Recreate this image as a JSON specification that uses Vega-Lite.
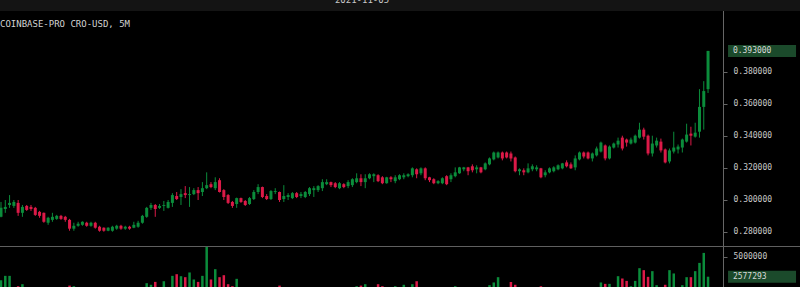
{
  "$schema": "https://vega.github.io/schema/vega-lite/v6.json",
  "width": 723,
  "height": 287,
  "autosize": {"type": "none"},
  "padding": {"left": 0, "top": 0, "right": 77, "bottom": 0},
  "background": "#000000",
  "config": {
    "view": {"stroke": null},
    "scale": {"continuousPadding": 0},
    "axis": {"labelFont": "DejaVu Sans Mono", "labelFontSize": 8, "labelColor": "#c8c8c8", "tickColor": "#666666", "domainColor": "#666666", "tickSize": 4, "labelPadding": 6, "grid": false}
  },
  "datasets": {
    "candles": [
      {"i":0,"o":0.2893,"h":0.2986,"l":0.2890,"c":0.2949,"v":2160000},
      {"i":1,"o":0.2942,"h":0.2998,"l":0.2918,"c":0.2955,"v":2680000},
      {"i":2,"o":0.2967,"h":0.3029,"l":0.2949,"c":0.2980,"v":2680000},
      {"i":3,"o":0.2961,"h":0.2998,"l":0.2949,"c":0.2986,"v":820000},
      {"i":4,"o":0.2980,"h":0.2998,"l":0.2899,"c":0.2918,"v":1430000},
      {"i":5,"o":0.2918,"h":0.2967,"l":0.2893,"c":0.2955,"v":1670000},
      {"i":6,"o":0.2961,"h":0.2967,"l":0.2930,"c":0.2936,"v":640000},
      {"i":7,"o":0.2955,"h":0.2967,"l":0.2930,"c":0.2942,"v":510000},
      {"i":8,"o":0.2949,"h":0.2955,"l":0.2899,"c":0.2905,"v":930000},
      {"i":9,"o":0.2924,"h":0.2930,"l":0.2887,"c":0.2899,"v":470000},
      {"i":10,"o":0.2918,"h":0.2920,"l":0.2856,"c":0.2862,"v":1050000},
      {"i":11,"o":0.2856,"h":0.2893,"l":0.2843,"c":0.2887,"v":720000},
      {"i":12,"o":0.2874,"h":0.2918,"l":0.2862,"c":0.2893,"v":580000},
      {"i":13,"o":0.2880,"h":0.2905,"l":0.2874,"c":0.2899,"v":390000},
      {"i":14,"o":0.2899,"h":0.2905,"l":0.2874,"c":0.2880,"v":450000},
      {"i":15,"o":0.2893,"h":0.2899,"l":0.2862,"c":0.2874,"v":610000},
      {"i":16,"o":0.2874,"h":0.2880,"l":0.2806,"c":0.2819,"v":1500000},
      {"i":17,"o":0.2819,"h":0.2856,"l":0.2806,"c":0.2837,"v":1430000},
      {"i":18,"o":0.2837,"h":0.2862,"l":0.2831,"c":0.2850,"v":540000},
      {"i":19,"o":0.2843,"h":0.2865,"l":0.2837,"c":0.2862,"v":420000},
      {"i":20,"o":0.2856,"h":0.2862,"l":0.2831,"c":0.2837,"v":380000},
      {"i":21,"o":0.2837,"h":0.2862,"l":0.2831,"c":0.2856,"v":460000},
      {"i":22,"o":0.2856,"h":0.2862,"l":0.2819,"c":0.2825,"v":870000},
      {"i":23,"o":0.2831,"h":0.2837,"l":0.2800,"c":0.2806,"v":690000},
      {"i":24,"o":0.2825,"h":0.2827,"l":0.2800,"c":0.2806,"v":350000},
      {"i":25,"o":0.2806,"h":0.2828,"l":0.2803,"c":0.2825,"v":410000},
      {"i":26,"o":0.2806,"h":0.2837,"l":0.2800,"c":0.2831,"v":560000},
      {"i":27,"o":0.2819,"h":0.2843,"l":0.2812,"c":0.2837,"v":330000},
      {"i":28,"o":0.2837,"h":0.2843,"l":0.2812,"c":0.2819,"v":300000},
      {"i":29,"o":0.2819,"h":0.2837,"l":0.2812,"c":0.2831,"v":280000},
      {"i":30,"o":0.2831,"h":0.2837,"l":0.2812,"c":0.2819,"v":360000},
      {"i":31,"o":0.2825,"h":0.2862,"l":0.2822,"c":0.2843,"v":740000},
      {"i":32,"o":0.2831,"h":0.2868,"l":0.2825,"c":0.2856,"v":980000},
      {"i":33,"o":0.2856,"h":0.2905,"l":0.2850,"c":0.2899,"v":1210000},
      {"i":34,"o":0.2893,"h":0.2955,"l":0.2887,"c":0.2949,"v":1790000},
      {"i":35,"o":0.2949,"h":0.2980,"l":0.2936,"c":0.2967,"v":1600000},
      {"i":36,"o":0.2967,"h":0.2973,"l":0.2893,"c":0.2942,"v":1950000},
      {"i":37,"o":0.2949,"h":0.2973,"l":0.2942,"c":0.2961,"v":880000},
      {"i":38,"o":0.2961,"h":0.2992,"l":0.2930,"c":0.2967,"v":2030000},
      {"i":39,"o":0.2949,"h":0.2998,"l":0.2945,"c":0.2986,"v":1150000},
      {"i":40,"o":0.2980,"h":0.3041,"l":0.2955,"c":0.3029,"v":2680000},
      {"i":41,"o":0.3023,"h":0.3048,"l":0.2998,"c":0.3004,"v":2880000},
      {"i":42,"o":0.3017,"h":0.3066,"l":0.2967,"c":0.3035,"v":2640000},
      {"i":43,"o":0.3041,"h":0.3085,"l":0.3010,"c":0.3029,"v":2520000},
      {"i":44,"o":0.3029,"h":0.3079,"l":0.2955,"c":0.3035,"v":3090000},
      {"i":45,"o":0.3035,"h":0.3072,"l":0.3029,"c":0.3060,"v":2240000},
      {"i":46,"o":0.3060,"h":0.3079,"l":0.2998,"c":0.3041,"v":1950000},
      {"i":47,"o":0.3048,"h":0.3110,"l":0.3023,"c":0.3072,"v":2680000},
      {"i":48,"o":0.3072,"h":0.3171,"l":0.3066,"c":0.3091,"v":6190000},
      {"i":49,"o":0.3097,"h":0.3110,"l":0.3072,"c":0.3079,"v":2240000},
      {"i":50,"o":0.3072,"h":0.3140,"l":0.3060,"c":0.3110,"v":3490000},
      {"i":51,"o":0.3122,"h":0.3134,"l":0.3045,"c":0.3048,"v":2520000},
      {"i":52,"o":0.3060,"h":0.3066,"l":0.2998,"c":0.3017,"v":2760000},
      {"i":53,"o":0.3029,"h":0.3035,"l":0.2973,"c":0.2980,"v":1670000},
      {"i":54,"o":0.2986,"h":0.2992,"l":0.2949,"c":0.2961,"v":1430000},
      {"i":55,"o":0.2973,"h":0.3013,"l":0.2949,"c":0.3010,"v":2320000},
      {"i":56,"o":0.3010,"h":0.3013,"l":0.2980,"c":0.2986,"v":1100000},
      {"i":57,"o":0.2992,"h":0.2998,"l":0.2961,"c":0.2967,"v":780000},
      {"i":58,"o":0.2973,"h":0.3017,"l":0.2967,"c":0.3010,"v":940000},
      {"i":59,"o":0.3004,"h":0.3060,"l":0.2998,"c":0.3048,"v":1180000},
      {"i":60,"o":0.3048,"h":0.3097,"l":0.3035,"c":0.3079,"v":1020000},
      {"i":61,"o":0.3079,"h":0.3082,"l":0.3010,"c":0.3017,"v":1240000},
      {"i":62,"o":0.3023,"h":0.3035,"l":0.2998,"c":0.3004,"v":650000},
      {"i":63,"o":0.3004,"h":0.3060,"l":0.2998,"c":0.3054,"v":890000},
      {"i":64,"o":0.3048,"h":0.3072,"l":0.3035,"c":0.3054,"v":430000},
      {"i":65,"o":0.3048,"h":0.3051,"l":0.2986,"c":0.2998,"v":1500000},
      {"i":66,"o":0.3004,"h":0.3091,"l":0.2986,"c":0.3023,"v":1120000},
      {"i":67,"o":0.3017,"h":0.3041,"l":0.2998,"c":0.3029,"v":520000},
      {"i":68,"o":0.3010,"h":0.3048,"l":0.3004,"c":0.3041,"v":610000},
      {"i":69,"o":0.3041,"h":0.3048,"l":0.3010,"c":0.3017,"v":470000},
      {"i":70,"o":0.3023,"h":0.3048,"l":0.3010,"c":0.3035,"v":390000},
      {"i":71,"o":0.3017,"h":0.3054,"l":0.3010,"c":0.3048,"v":560000},
      {"i":72,"o":0.3035,"h":0.3079,"l":0.3023,"c":0.3072,"v":840000},
      {"i":73,"o":0.3060,"h":0.3085,"l":0.3017,"c":0.3072,"v":720000},
      {"i":74,"o":0.3060,"h":0.3091,"l":0.3048,"c":0.3085,"v":530000},
      {"i":75,"o":0.3072,"h":0.3128,"l":0.3054,"c":0.3110,"v":960000},
      {"i":76,"o":0.3097,"h":0.3128,"l":0.3091,"c":0.3110,"v":480000},
      {"i":77,"o":0.3110,"h":0.3113,"l":0.3079,"c":0.3091,"v":410000},
      {"i":78,"o":0.3103,"h":0.3110,"l":0.3072,"c":0.3079,"v":570000},
      {"i":79,"o":0.3072,"h":0.3110,"l":0.3066,"c":0.3103,"v":630000},
      {"i":80,"o":0.3097,"h":0.3103,"l":0.3072,"c":0.3079,"v":350000},
      {"i":81,"o":0.3085,"h":0.3122,"l":0.3072,"c":0.3110,"v":690000},
      {"i":82,"o":0.3091,"h":0.3134,"l":0.3079,"c":0.3128,"v":1050000},
      {"i":83,"o":0.3110,"h":0.3165,"l":0.3103,"c":0.3134,"v":1430000},
      {"i":84,"o":0.3134,"h":0.3159,"l":0.3085,"c":0.3110,"v":1500000},
      {"i":85,"o":0.3110,"h":0.3159,"l":0.3072,"c":0.3134,"v":1670000},
      {"i":86,"o":0.3134,"h":0.3165,"l":0.3128,"c":0.3159,"v":760000},
      {"i":87,"o":0.3147,"h":0.3165,"l":0.3110,"c":0.3159,"v":820000},
      {"i":88,"o":0.3153,"h":0.3159,"l":0.3110,"c":0.3116,"v":1670000},
      {"i":89,"o":0.3140,"h":0.3147,"l":0.3097,"c":0.3103,"v":1430000},
      {"i":90,"o":0.3103,"h":0.3143,"l":0.3100,"c":0.3140,"v":910000},
      {"i":91,"o":0.3140,"h":0.3147,"l":0.3110,"c":0.3128,"v":540000},
      {"i":92,"o":0.3116,"h":0.3153,"l":0.3103,"c":0.3140,"v":1430000},
      {"i":93,"o":0.3128,"h":0.3159,"l":0.3122,"c":0.3153,"v":620000},
      {"i":94,"o":0.3140,"h":0.3165,"l":0.3128,"c":0.3153,"v":1600000},
      {"i":95,"o":0.3147,"h":0.3165,"l":0.3140,"c":0.3159,"v":480000},
      {"i":96,"o":0.3153,"h":0.3202,"l":0.3140,"c":0.3196,"v":1670000},
      {"i":97,"o":0.3190,"h":0.3196,"l":0.3134,"c":0.3159,"v":2030000},
      {"i":98,"o":0.3165,"h":0.3202,"l":0.3153,"c":0.3196,"v":870000},
      {"i":99,"o":0.3196,"h":0.3202,"l":0.3122,"c":0.3134,"v":1160000},
      {"i":100,"o":0.3140,"h":0.3143,"l":0.3110,"c":0.3122,"v":740000},
      {"i":101,"o":0.3128,"h":0.3134,"l":0.3097,"c":0.3103,"v":650000},
      {"i":102,"o":0.3103,"h":0.3122,"l":0.3097,"c":0.3116,"v":420000},
      {"i":103,"o":0.3103,"h":0.3140,"l":0.3097,"c":0.3134,"v":580000},
      {"i":104,"o":0.3147,"h":0.3153,"l":0.3091,"c":0.3097,"v":990000},
      {"i":105,"o":0.3128,"h":0.3165,"l":0.3110,"c":0.3153,"v":710000},
      {"i":106,"o":0.3147,"h":0.3202,"l":0.3140,"c":0.3171,"v":1430000},
      {"i":107,"o":0.3165,"h":0.3205,"l":0.3162,"c":0.3202,"v":1080000},
      {"i":108,"o":0.3190,"h":0.3205,"l":0.3178,"c":0.3202,"v":460000},
      {"i":109,"o":0.3202,"h":0.3205,"l":0.3153,"c":0.3178,"v":690000},
      {"i":110,"o":0.3209,"h":0.3221,"l":0.3171,"c":0.3184,"v":820000},
      {"i":111,"o":0.3190,"h":0.3215,"l":0.3165,"c":0.3202,"v":540000},
      {"i":112,"o":0.3202,"h":0.3205,"l":0.3165,"c":0.3171,"v":630000},
      {"i":113,"o":0.3190,"h":0.3233,"l":0.3184,"c":0.3227,"v":1190000},
      {"i":114,"o":0.3221,"h":0.3264,"l":0.3215,"c":0.3258,"v":1550000},
      {"i":115,"o":0.3252,"h":0.3301,"l":0.3246,"c":0.3295,"v":1880000},
      {"i":116,"o":0.3264,"h":0.3301,"l":0.3258,"c":0.3295,"v":2520000},
      {"i":117,"o":0.3295,"h":0.3301,"l":0.3246,"c":0.3258,"v":1210000},
      {"i":118,"o":0.3295,"h":0.3301,"l":0.3258,"c":0.3264,"v":860000},
      {"i":119,"o":0.3289,"h":0.3301,"l":0.3239,"c":0.3258,"v":1950000},
      {"i":120,"o":0.3264,"h":0.3270,"l":0.3171,"c":0.3178,"v":1600000},
      {"i":121,"o":0.3178,"h":0.3196,"l":0.3153,"c":0.3190,"v":730000},
      {"i":122,"o":0.3184,"h":0.3196,"l":0.3153,"c":0.3171,"v":520000},
      {"i":123,"o":0.3171,"h":0.3227,"l":0.3165,"c":0.3196,"v":910000},
      {"i":124,"o":0.3190,"h":0.3221,"l":0.3178,"c":0.3209,"v":640000},
      {"i":125,"o":0.3190,"h":0.3215,"l":0.3178,"c":0.3202,"v":450000},
      {"i":126,"o":0.3196,"h":0.3199,"l":0.3134,"c":0.3140,"v":1430000},
      {"i":127,"o":0.3153,"h":0.3184,"l":0.3140,"c":0.3171,"v":680000},
      {"i":128,"o":0.3171,"h":0.3202,"l":0.3165,"c":0.3196,"v":570000},
      {"i":129,"o":0.3178,"h":0.3209,"l":0.3171,"c":0.3202,"v":490000},
      {"i":130,"o":0.3190,"h":0.3221,"l":0.3184,"c":0.3215,"v":610000},
      {"i":131,"o":0.3196,"h":0.3230,"l":0.3190,"c":0.3227,"v":760000},
      {"i":132,"o":0.3233,"h":0.3246,"l":0.3202,"c":0.3209,"v":830000},
      {"i":133,"o":0.3221,"h":0.3233,"l":0.3193,"c":0.3196,"v":540000},
      {"i":134,"o":0.3202,"h":0.3277,"l":0.3184,"c":0.3258,"v":1180000},
      {"i":135,"o":0.3252,"h":0.3301,"l":0.3246,"c":0.3295,"v":1240000},
      {"i":136,"o":0.3295,"h":0.3301,"l":0.3258,"c":0.3270,"v":970000},
      {"i":137,"o":0.3295,"h":0.3301,"l":0.3252,"c":0.3258,"v":880000},
      {"i":138,"o":0.3258,"h":0.3295,"l":0.3239,"c":0.3289,"v":1010000},
      {"i":139,"o":0.3277,"h":0.3332,"l":0.3270,"c":0.3320,"v":1270000},
      {"i":140,"o":0.3301,"h":0.3363,"l":0.3295,"c":0.3357,"v":1880000},
      {"i":141,"o":0.3339,"h":0.3345,"l":0.3246,"c":0.3258,"v":1710000},
      {"i":142,"o":0.3258,"h":0.3339,"l":0.3252,"c":0.3332,"v":1710000},
      {"i":143,"o":0.3326,"h":0.3357,"l":0.3320,"c":0.3351,"v":1220000},
      {"i":144,"o":0.3345,"h":0.3388,"l":0.3326,"c":0.3369,"v":2640000},
      {"i":145,"o":0.3388,"h":0.3400,"l":0.3308,"c":0.3320,"v":2360000},
      {"i":146,"o":0.3376,"h":0.3382,"l":0.3332,"c":0.3357,"v":2070000},
      {"i":147,"o":0.3351,"h":0.3388,"l":0.3345,"c":0.3376,"v":1430000},
      {"i":148,"o":0.3357,"h":0.3407,"l":0.3351,"c":0.3400,"v":2070000},
      {"i":149,"o":0.3388,"h":0.3481,"l":0.3382,"c":0.3438,"v":3610000},
      {"i":150,"o":0.3438,"h":0.3450,"l":0.3376,"c":0.3394,"v":3370000},
      {"i":151,"o":0.3400,"h":0.3407,"l":0.3277,"c":0.3289,"v":2560000},
      {"i":152,"o":0.3289,"h":0.3400,"l":0.3270,"c":0.3351,"v":3250000},
      {"i":153,"o":0.3339,"h":0.3388,"l":0.3326,"c":0.3369,"v":1550000},
      {"i":154,"o":0.3363,"h":0.3382,"l":0.3295,"c":0.3308,"v":1190000},
      {"i":155,"o":0.3314,"h":0.3320,"l":0.3227,"c":0.3233,"v":1600000},
      {"i":156,"o":0.3239,"h":0.3320,"l":0.3227,"c":0.3308,"v":3370000},
      {"i":157,"o":0.3301,"h":0.3425,"l":0.3289,"c":0.3326,"v":2970000},
      {"i":158,"o":0.3314,"h":0.3345,"l":0.3289,"c":0.3332,"v":1230000},
      {"i":159,"o":0.3326,"h":0.3382,"l":0.3295,"c":0.3376,"v":1550000},
      {"i":160,"o":0.3363,"h":0.3475,"l":0.3357,"c":0.3407,"v":2520000},
      {"i":161,"o":0.3413,"h":0.3456,"l":0.3339,"c":0.3400,"v":2520000},
      {"i":162,"o":0.3394,"h":0.3481,"l":0.3388,"c":0.3419,"v":3250000},
      {"i":163,"o":0.3425,"h":0.3691,"l":0.3388,"c":0.3580,"v":4250000},
      {"i":164,"o":0.3580,"h":0.3741,"l":0.3438,"c":0.3679,"v":5460000},
      {"i":165,"o":0.3691,"h":0.3930,"l":0.3667,"c":0.3930,"v":2577293}
    ]
  },
  "resolve": {"scale": {"y": "independent"}, "axis": {"y": "independent"}},
  "layer": [
    {
      "layer": [
        {
          "data": {"values": [{"label": "2021-11-05"}]},
          "mark": {"type": "rect", "fill": "#141414"},
          "encoding": {
            "x": {"datum": -1, "type": "quantitative", "scale": {"domain": [-0.2334, 168.49], "nice": false, "zero": false, "padding": 0}, "axis": null},
            "x2": {"datum": 190},
            "y": {"datum": 0.45, "type": "quantitative", "title": null, "scale": {"domain": [0.24544, 0.424815], "nice": false, "zero": false, "padding": 0}, "axis": {"orient": "right", "values": [0.28, 0.30, 0.32, 0.34, 0.36, 0.38], "format": ".6f", "title": null}},
            "y2": {"datum": 0.417938}
          }
        },
        {
          "data": {"values": [{"label": "2021-11-05"}]},
          "mark": {"type": "text", "font": "DejaVu Sans Mono", "fontSize": 9, "color": "#c8c8c8", "align": "center", "baseline": "alphabetic"},
          "encoding": {
            "x": {"datum": 84.25, "type": "quantitative", "scale": {"domain": [-0.2334, 168.49], "nice": false, "zero": false, "padding": 0}, "axis": null},
            "y": {"datum": 0.422938, "type": "quantitative", "title": null, "scale": {"domain": [0.24544, 0.424815], "nice": false, "zero": false, "padding": 0}},
            "text": {"field": "label"}
          }
        },
        {
          "data": {"values": [{"label": "COINBASE-PRO CRO-USD, 5M"}]},
          "mark": {"type": "text", "font": "DejaVu Sans Mono", "fontSize": 9, "color": "#d2d2d2", "align": "left", "baseline": "alphabetic"},
          "encoding": {
            "x": {"datum": -0.2334, "type": "quantitative", "scale": {"domain": [-0.2334, 168.49], "nice": false, "zero": false, "padding": 0}, "axis": null},
            "y": {"datum": 0.407938, "type": "quantitative", "title": null, "scale": {"domain": [0.24544, 0.424815], "nice": false, "zero": false, "padding": 0}},
            "text": {"field": "label"}
          }
        },
        {
          "data": {"values": [{"label": "separator"}]},
          "mark": {"type": "rule", "stroke": "#5f5f5f", "strokeWidth": 1},
          "encoding": {
            "x": {"datum": -1, "type": "quantitative", "scale": {"domain": [-0.2334, 168.49], "nice": false, "zero": false, "padding": 0}, "axis": null},
            "x2": {"datum": 190},
            "y": {"datum": 0.27075, "type": "quantitative", "title": null, "scale": {"domain": [0.24544, 0.424815], "nice": false, "zero": false, "padding": 0}}
          }
        },
        {
          "data": {"name": "candles"},
          "mark": {"type": "rule", "strokeWidth": 1},
          "encoding": {
            "x": {"field": "i", "type": "quantitative", "scale": {"domain": [-0.2334, 168.49], "nice": false, "zero": false, "padding": 0}, "axis": null},
            "y": {"field": "l", "type": "quantitative", "title": null, "scale": {"domain": [0.24544, 0.424815], "nice": false, "zero": false, "padding": 0}},
            "y2": {"field": "h"},
            "color": {"condition": {"test": "datum.c >= datum.o", "value": "#0b8c3b"}, "value": "#dc1a48"}
          }
        },
        {
          "data": {"name": "candles"},
          "mark": {"type": "bar", "width": 3},
          "encoding": {
            "x": {"field": "i", "type": "quantitative", "scale": {"domain": [-0.2334, 168.49], "nice": false, "zero": false, "padding": 0}, "axis": null},
            "y": {"field": "o", "type": "quantitative", "title": null, "scale": {"domain": [0.24544, 0.424815], "nice": false, "zero": false, "padding": 0}},
            "y2": {"field": "c"},
            "color": {"condition": {"test": "datum.c >= datum.o", "value": "#0b8c3b"}, "value": "#dc1a48"}
          }
        },
        {
          "data": {"name": "candles"},
          "transform": [{"filter": "datum.i == 165"}],
          "mark": {"type": "tick", "orient": "horizontal", "size": 68, "thickness": 12, "color": "#1b4a2b", "opacity": 1},
          "encoding": {
            "x": {"datum": 177.6, "type": "quantitative", "scale": {"domain": [-0.2334, 168.49], "nice": false, "zero": false, "padding": 0}, "axis": null},
            "y": {"field": "c", "type": "quantitative", "title": null, "scale": {"domain": [0.24544, 0.424815], "nice": false, "zero": false, "padding": 0}}
          }
        },
        {
          "data": {"name": "candles"},
          "transform": [{"filter": "datum.i == 165"}],
          "mark": {"type": "text", "font": "DejaVu Sans Mono", "fontSize": 8, "color": "#d8d8d8", "align": "left", "baseline": "middle"},
          "encoding": {
            "x": {"datum": 170.8, "type": "quantitative", "scale": {"domain": [-0.2334, 168.49], "nice": false, "zero": false, "padding": 0}, "axis": null},
            "y": {"field": "c", "type": "quantitative", "title": null, "scale": {"domain": [0.24544, 0.424815], "nice": false, "zero": false, "padding": 0}},
            "text": {"field": "c", "format": ".6f"}
          }
        }
      ]
    },
    {
      "layer": [
        {
          "data": {"name": "candles"},
          "mark": {"type": "bar", "width": 2.5},
          "encoding": {
            "x": {"field": "i", "type": "quantitative", "scale": {"domain": [-0.2334, 168.49], "nice": false, "zero": false, "padding": 0}, "axis": null},
            "y": {"field": "v", "type": "quantitative", "title": null, "scale": {"domain": [1330000, 36097000], "nice": false, "zero": false, "padding": 0}, "axis": {"orient": "right", "values": [5000000], "format": "d", "domain": false, "title": null}},
            "y2": {"datum": 0},
            "color": {"condition": {"test": "datum.c >= datum.o", "value": "#0b8c3b"}, "value": "#dc1a48"}
          }
        },
        {
          "data": {"name": "candles"},
          "transform": [{"filter": "datum.i == 165"}],
          "mark": {"type": "tick", "orient": "horizontal", "size": 68, "thickness": 12, "color": "#1b4a2b", "opacity": 1},
          "encoding": {
            "x": {"datum": 177.6, "type": "quantitative", "scale": {"domain": [-0.2334, 168.49], "nice": false, "zero": false, "padding": 0}, "axis": null},
            "y": {"field": "v", "type": "quantitative", "title": null, "scale": {"domain": [1330000, 36097000], "nice": false, "zero": false, "padding": 0}}
          }
        },
        {
          "data": {"name": "candles"},
          "transform": [{"filter": "datum.i == 165"}],
          "mark": {"type": "text", "font": "DejaVu Sans Mono", "fontSize": 8, "color": "#d8d8d8", "align": "left", "baseline": "middle"},
          "encoding": {
            "x": {"datum": 170.8, "type": "quantitative", "scale": {"domain": [-0.2334, 168.49], "nice": false, "zero": false, "padding": 0}, "axis": null},
            "y": {"field": "v", "type": "quantitative", "title": null, "scale": {"domain": [1330000, 36097000], "nice": false, "zero": false, "padding": 0}},
            "text": {"field": "v", "format": "d"}
          }
        }
      ]
    }
  ]
}
